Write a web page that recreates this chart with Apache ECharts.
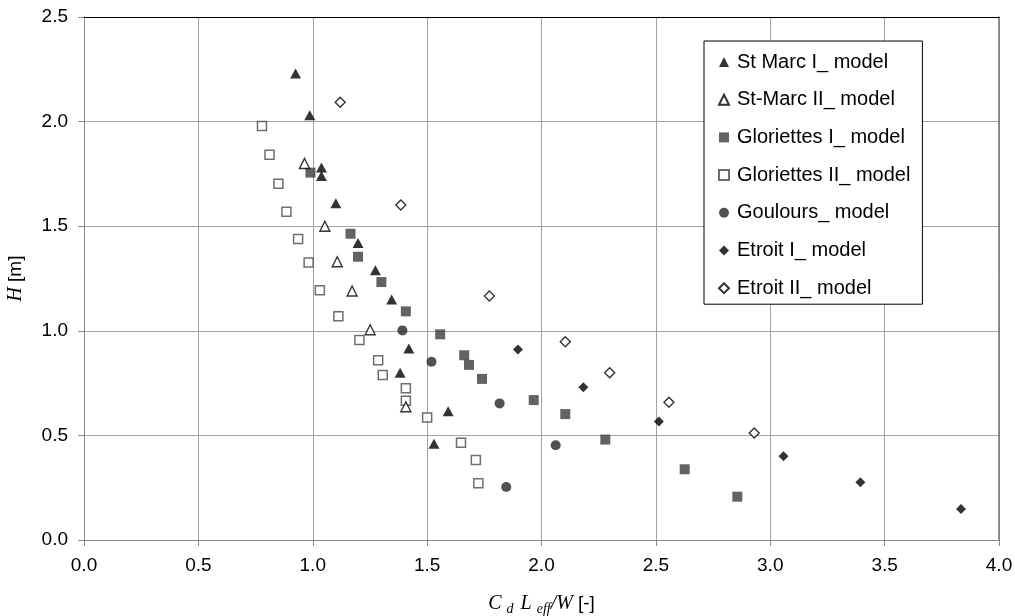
<!DOCTYPE html>
<html>
<head>
<meta charset="utf-8">
<script src="https://cdn.jsdelivr.net/npm/echarts@6/dist/echarts.min.js"></script>
<style>
html,body{margin:0;padding:0;background:#fff;}
#chart{width:1015px;height:616px;}
</style>
</head>
<body>
<div id="chart"></div>
<script>
// ---- data ----
const seriesNames = ['St Marc I_ model','St-Marc II_ model','Gloriettes I_ model','Gloriettes II_ model','Goulours_ model','Etroit I_ model','Etroit II_ model'];

const stMarcI_x = [0.925, 0.987, 1.038, 1.038, 1.101, 1.198, 1.274, 1.345, 1.420, 1.382, 1.592, 1.530];
const stMarcI_y = [2.23, 2.03, 1.78, 1.74, 1.61, 1.42, 1.29, 1.15, 0.915, 0.80, 0.615, 0.46];

const stMarcII_x = [0.964, 1.053, 1.107, 1.172, 1.251, 1.407];
const stMarcII_y = [1.80, 1.50, 1.33, 1.19, 1.005, 0.637];

const gloriettesI_x = [0.99, 1.165, 1.198, 1.30, 1.407, 1.557, 1.662, 1.683, 1.74, 1.966, 2.104, 2.279, 2.626, 2.856];
const gloriettesI_y = [1.756, 1.464, 1.354, 1.233, 1.093, 0.983, 0.883, 0.837, 0.77, 0.669, 0.602, 0.48, 0.338, 0.207];

const gloriettesII_x = [0.778, 0.811, 0.85, 0.885, 0.936, 0.982, 1.031, 1.112, 1.204, 1.286, 1.306, 1.407, 1.407, 1.50, 1.648, 1.713, 1.724];
const gloriettesII_y = [1.979, 1.842, 1.703, 1.569, 1.439, 1.326, 1.194, 1.069, 0.956, 0.859, 0.789, 0.725, 0.666, 0.585, 0.465, 0.382, 0.271];

const goulours_x = [1.392, 1.519, 1.817, 2.062, 1.846];
const goulours_y = [1.002, 0.852, 0.653, 0.453, 0.253];

const etroitI_x = [1.897, 2.183, 2.513, 3.058, 3.394, 3.834];
const etroitI_y = [0.911, 0.73, 0.567, 0.40, 0.276, 0.148];

const etroitII_x = [1.12, 1.385, 1.772, 2.104, 2.298, 2.557, 2.93];
const etroitII_y = [2.092, 1.601, 1.166, 0.948, 0.80, 0.658, 0.511];

const xTicks = [0, 0.5, 1.0, 1.5, 2.0, 2.5, 3.0, 3.5, 4.0];
const yTicks = [0, 0.5, 1.0, 1.5, 2.0, 2.5];

// ---- build chart ----
function pairs(xs, ys){ return xs.map((x,i)=>[x, ys[i]]); }

const SANS = '"Liberation Sans", Arial, sans-serif';
const SERIF = '"Liberation Serif", "Times New Roman", serif';

const styles = [
  {symbol:'triangle', size:[11,10], itemStyle:{color:'#000'}},
  {symbol:'triangle', size:[10,10], itemStyle:{color:'#fff', borderColor:'#000', borderWidth:1.4}},
  {symbol:'rect', size:10, itemStyle:{color:'#3c3c3c'}},
  {symbol:'rect', size:9, itemStyle:{color:'#fff', borderColor:'#4a4a4a', borderWidth:1.5}},
  {symbol:'circle', size:10, itemStyle:{color:'#262626'}},
  {symbol:'diamond', size:10, itemStyle:{color:'#000'}},
  {symbol:'diamond', size:10, itemStyle:{color:'#fff', borderColor:'#000', borderWidth:1.4}}
];
const dataSets = [
  pairs(stMarcI_x, stMarcI_y),
  pairs(stMarcII_x, stMarcII_y),
  pairs(gloriettesI_x, gloriettesI_y),
  pairs(gloriettesII_x, gloriettesII_y),
  pairs(goulours_x, goulours_y),
  pairs(etroitI_x, etroitI_y),
  pairs(etroitII_x, etroitII_y)
];

const series = seriesNames.map((n,i)=>({
  name:n, type:'scatter', xAxisIndex:0, yAxisIndex:0,
  symbol:styles[i].symbol, symbolSize:styles[i].size,
  itemStyle:styles[i].itemStyle, data:dataSets[i],
  z: i===1 ? 5 : 2
}));

const chart = echarts.init(document.getElementById('chart'), null, {renderer:'canvas'});
chart.setOption({
  backgroundColor:'#fff',
  animation:false,
  grid:{left:84, right:16, top:17, bottom:76, outerBoundsMode:'none', containLabel:false},
  legend:{
    orient:'vertical', left:704, top:41,
    data:seriesNames,
    itemWidth:10, itemHeight:10, itemGap:17.7, symbolKeepAspect:true,
    padding:[11, 12, 6, 14],
    borderColor:'#000', borderWidth:1, backgroundColor:'#fff',
    textStyle:{fontFamily:SANS, fontSize:20, color:'#000', lineHeight:20, padding:[0,0,0,3]},
    selectedMode:false
  },
  xAxis:[{
    type:'value', min:xTicks[0], max:xTicks[xTicks.length-1], interval:0.5,
    axisLine:{show:true, onZero:false, lineStyle:{color:'#888', width:1}},
    axisTick:{show:true, length:6, lineStyle:{color:'#888'}},
    axisLabel:{formatter:v=>v.toFixed(1), fontFamily:SANS, fontSize:19, color:'#000', margin:16},
    splitLine:{show:true, lineStyle:{color:'#a3a3a3', width:1}},
    name:'{i|C }{s|d  }{i|L }{s|eff}{i|/W }{n|[-]}',
    nameLocation:'middle', nameGap:52,
    nameTextStyle:{
      rich:{
        i:{fontFamily:SERIF, fontStyle:'italic', fontSize:20, color:'#000', lineHeight:24, verticalAlign:'middle'},
        s:{fontFamily:SERIF, fontStyle:'italic', fontSize:14, color:'#000', lineHeight:12, verticalAlign:'bottom'},
        n:{fontFamily:SANS, fontSize:19, color:'#000', lineHeight:24, verticalAlign:'middle'}
      }
    }
  },{
    type:'value', position:'top', min:xTicks[0], max:xTicks[xTicks.length-1], interval:0.5,
    axisLine:{show:true, onZero:false, lineStyle:{color:'#000', width:1}},
    axisTick:{show:false}, axisLabel:{show:false}, splitLine:{show:false}
  }],
  yAxis:[{
    type:'value', min:yTicks[0], max:yTicks[yTicks.length-1], interval:0.5,
    axisLine:{show:true, onZero:false, lineStyle:{color:'#888', width:1}},
    axisTick:{show:true, length:6, lineStyle:{color:'#888'}},
    axisLabel:{formatter:v=>v.toFixed(1), fontFamily:SANS, fontSize:19, color:'#000', margin:16},
    splitLine:{show:true, lineStyle:{color:'#a3a3a3', width:1}},
    name:'{i|H }{n|[m]}',
    nameLocation:'middle', nameGap:56,
    nameTextStyle:{
      rich:{
        i:{fontFamily:SERIF, fontStyle:'italic', fontSize:20, color:'#000', lineHeight:24},
        n:{fontFamily:SANS, fontSize:19, color:'#000', lineHeight:24}
      }
    }
  },{
    type:'value', position:'right', min:yTicks[0], max:yTicks[yTicks.length-1], interval:0.5,
    axisLine:{show:true, onZero:false, lineStyle:{color:'#777', width:1.5}},
    axisTick:{show:false}, axisLabel:{show:false}, splitLine:{show:false}
  }],
  series:series
});
</script>
</body>
</html>
